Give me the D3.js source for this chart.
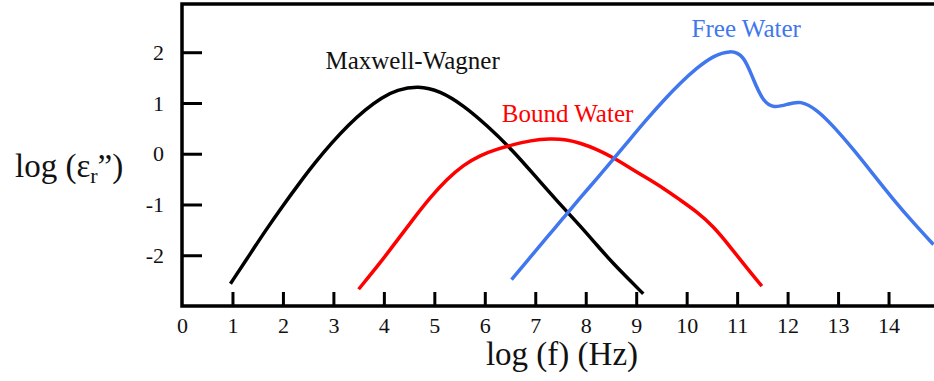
<!DOCTYPE html>
<html>
<head>
<meta charset="utf-8">
<script src="https://cdn.jsdelivr.net/npm/d3@7"></script>
<style>
  body { margin: 0; background: #fff; }
  text { font-family: 'Liberation Serif', 'Times New Roman', serif; fill: #111; }
</style>
</head>
<body>
<script>
// data (log f, log eps'')
const mwX = [0.96, 1.32, 1.65, 1.98, 2.31, 2.64, 2.97, 3.30, 3.63, 3.96, 4.26, 4.68, 5.11, 5.58, 6.04, 6.57, 6.96, 7.43, 7.89, 8.22, 8.55, 8.88, 9.14];
const mwY = [-2.56, -2.02, -1.52, -1.05, -0.60, -0.17, 0.22, 0.57, 0.87, 1.11, 1.26, 1.34, 1.24, 0.95, 0.56, 0.05, -0.40, -0.93, -1.42, -1.80, -2.17, -2.50, -2.76];

const boundX = [3.50, 3.96, 4.26, 4.58, 4.92, 5.25, 5.58, 5.91, 6.24, 6.57, 6.90, 7.29, 7.63, 7.89, 8.22, 8.55, 8.88, 9.21, 9.54, 9.87, 10.20, 10.53, 10.86, 11.19, 11.49];
const boundY = [-2.67, -2.11, -1.71, -1.29, -0.86, -0.50, -0.22, -0.03, 0.09, 0.18, 0.26, 0.30, 0.28, 0.21, 0.09, -0.08, -0.28, -0.48, -0.68, -0.91, -1.14, -1.43, -1.83, -2.25, -2.61];

const freeX = [6.53, 6.90, 7.23, 7.56, 7.89, 8.22, 8.55, 8.88, 9.21, 9.54, 9.87, 10.20, 10.53, 10.86, 11.13, 11.32, 11.52, 11.72, 11.99, 12.25, 12.58, 12.91, 13.31, 13.70, 14.10, 14.50, 14.89];
const freeY = [-2.48, -2.04, -1.65, -1.26, -0.87, -0.49, -0.10, 0.29, 0.68, 1.05, 1.39, 1.69, 1.93, 2.04, 1.95, 1.46, 1.02, 0.90, 0.97, 1.05, 0.87, 0.54, 0.08, -0.41, -0.91, -1.37, -1.79];

const seriesNames = ["Maxwell-Wagner", "Bound Water", "Free Water"];
const seriesColors = ["#000000", "#ff0000", "#4077ee"];
// label anchors, in data units
const labelX = [4.57, 7.64, 11.18];
const labelY = [1.67, 0.63, 2.30];

const xTicks = d3.range(0, 15);
const yTicks = [-2, -1, 0, 1, 2];

const svgWidth = 934;
const svgHeight = 381;
const margin = { top: 4, right: -5, bottom: 75, left: 182 };
const width = svgWidth - margin.left - margin.right;
const height = svgHeight - margin.top - margin.bottom;
const serif = "'Liberation Serif', 'Times New Roman', serif";

const svg = d3
	.select("body")
	.append("svg")
	.attr("width", svgWidth)
	.attr("height", svgHeight);

const g = svg.append("g").attr("transform", `translate(${margin.left},${margin.top})`);

//scales
const xScale = d3.scaleLinear().domain([0, 15]).range([0, width]);
const yScale = d3.scaleLinear().domain([-3, 2.95]).range([height, 0]);

g.append("clipPath")
	.attr("id", "plot-clip")
	.append("rect")
	.attr("x", 0)
	.attr("y", 0)
	.attr("width", svgWidth - margin.left)
	.attr("height", height);

//=====
//curves
//=====
const series = [
	{ xs: mwX, ys: mwY },
	{ xs: boundX, ys: boundY },
	{ xs: freeX, ys: freeY }
].map((s, i) => ({
	name: seriesNames[i],
	color: seriesColors[i],
	points: s.xs.map((x, j) => ({ x: x, y: s.ys[j] }))
}));

const line = d3
	.line()
	.x((d) => xScale(d.x))
	.y((d) => yScale(d.y))
	.curve(d3.curveBasis);

g.append("g")
	.attr("clip-path", "url(#plot-clip)")
	.selectAll(".curve")
	.data(series)
	.enter()
	.append("path")
	.attr("class", "curve")
	.attr("d", (d) => line(d.points))
	.attr("fill", "none")
	.attr("stroke", (d) => d.color)
	.attr("stroke-width", 3.5)
	.attr("stroke-linecap", "butt")
	.attr("stroke-linejoin", "round");

//labels
g.selectAll(".series-label")
	.data(series)
	.enter()
	.append("text")
	.attr("class", "series-label")
	.attr("x", (d, i) => xScale(labelX[i]))
	.attr("y", (d, i) => yScale(labelY[i]))
	.attr("text-anchor", "middle")
	.attr("font-family", serif)
	.style("font-size", "25px")
	.style("fill", (d) => d.color === "#000000" ? "#111" : d.color)
	.text((d) => d.name);

//=====
//axes
//=====
//x-axis, ticks point inwards
const xAxis = g
	.append("g")
	.attr("class", "x-axis")
	.attr("transform", `translate(0, ${height})`)
	.call(
		d3.axisBottom(xScale)
			.tickValues(xTicks)
			.tickSizeInner(-14)
			.tickSizeOuter(0)
			.tickFormat((d) => String(d))
	);

//y-axis
const yAxis = g
	.append("g")
	.attr("class", "y-axis")
	.call(
		d3.axisLeft(yScale)
			.tickValues(yTicks)
			.tickSizeInner(-20)
			.tickSizeOuter(0)
			.tickPadding(18)
			.tickFormat((d) => String(d))
	);

[xAxis, yAxis].forEach((ax) => {
	ax.attr("font-family", serif);
	ax.select(".domain").remove();
	ax.selectAll(".tick line").attr("stroke", "#000").attr("stroke-width", 3);
	ax.selectAll(".tick text")
		.attr("font-family", serif)
		.style("font-size", "22px")
		.attr("fill", "#111");
});
xAxis.selectAll(".tick").filter((d) => d === 0).select("line").remove();
xAxis.selectAll(".tick text").attr("dy", "0.71em").attr("y", 11);

//frame: left, top and bottom borders (right side runs off the picture)
g.append("path")
	.attr("d", `M${svgWidth},0 H0 V${height} H${svgWidth}`)
	.attr("fill", "none")
	.attr("stroke", "#000")
	.attr("stroke-width", 3.5);

//axis titles
svg.append("text")
	.attr("x", 562)
	.attr("y", 365)
	.attr("text-anchor", "middle")
	.attr("font-family", serif)
	.style("font-size", "33px")
	.text("log (f) (Hz)");

const yTitle = svg.append("text")
	.attr("x", 15)
	.attr("y", 177)
	.attr("font-family", serif)
	.style("font-size", "33px");
yTitle.append("tspan").text("log (ε");
yTitle.append("tspan").attr("dy", 6).style("font-size", "22px").text("r");
yTitle.append("tspan").attr("dy", -6).text("”)");
</script>
</body>
</html>
